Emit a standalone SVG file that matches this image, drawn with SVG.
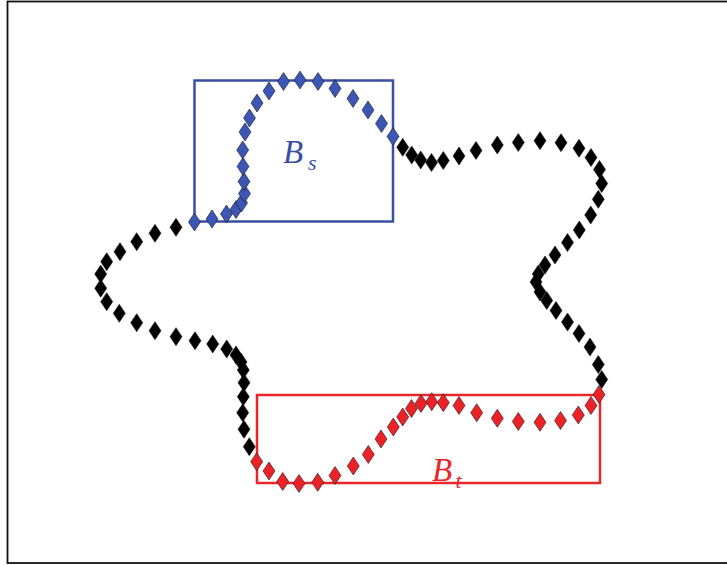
<svg xmlns="http://www.w3.org/2000/svg" xmlns:xlink="http://www.w3.org/1999/xlink" width="727" height="565" viewBox="0 0 727 565">
<style>
.k{fill:#000}
.b{fill:#3b56b4}
.r{fill:#ec2227}
.lab{font-family:"Liberation Serif",serif;font-style:italic}
</style>
<defs>
<path id="d" d="M0,-9 L6,0 L0,9 L-6,0 Z" stroke="#1a1a1a" stroke-width="0.6"/>
</defs>
<rect width="727" height="565" fill="#fff"/>
<rect x="7.5" y="1.5" width="730" height="561.5" fill="none" stroke="#111" stroke-width="1.8"/>
<g id="box-Bs">
<rect x="194.5" y="80.5" width="198.5" height="141" fill="none" stroke="#3a4fa3" stroke-width="2.5"/>
<text class="lab" x="283" y="163" font-size="33" fill="#3a4fa3">B</text>
<text class="lab" x="308" y="170" font-size="22" fill="#3a4fa3">s</text>
</g>
<g id="box-Bt">
<rect x="257" y="395" width="343" height="88" fill="none" stroke="#e8262b" stroke-width="2.5"/>
<text class="lab" x="432" y="480.5" font-size="33" fill="#e8262b">B</text>
<text class="lab" x="455.5" y="488" font-size="22" fill="#e8262b">t</text>
</g>
<g id="curve">
<use href="#d" class="b" x="194.5" y="222"/>
<use href="#d" class="b" x="212" y="219"/>
<use href="#d" class="b" x="226.5" y="214"/>
<use href="#d" class="b" x="236" y="209.5"/>
<use href="#d" class="b" x="241.5" y="203"/>
<use href="#d" class="b" x="244.5" y="193.5"/>
<use href="#d" class="b" x="244" y="181.5"/>
<use href="#d" class="b" x="243" y="166.5"/>
<use href="#d" class="b" x="242.7" y="150"/>
<use href="#d" class="b" x="245" y="132"/>
<use href="#d" class="b" x="249.5" y="118"/>
<use href="#d" class="b" x="257" y="103"/>
<use href="#d" class="b" x="269" y="91"/>
<use href="#d" class="b" x="283.5" y="81.5"/>
<use href="#d" class="b" x="300" y="80"/>
<use href="#d" class="b" x="318" y="81.5"/>
<use href="#d" class="b" x="335" y="88.5"/>
<use href="#d" class="b" x="353" y="98.5"/>
<use href="#d" class="b" x="368" y="110"/>
<use href="#d" class="b" x="381.5" y="123.5"/>
<use href="#d" class="b" x="393" y="136.5"/>
<use href="#d" class="k" x="402.7" y="147.3"/>
<use href="#d" class="k" x="411.7" y="155"/>
<use href="#d" class="k" x="420.7" y="160"/>
<use href="#d" class="k" x="431.5" y="162.5"/>
<use href="#d" class="k" x="443.3" y="160.5"/>
<use href="#d" class="k" x="459" y="156"/>
<use href="#d" class="k" x="476" y="150.5"/>
<use href="#d" class="k" x="497.3" y="145"/>
<use href="#d" class="k" x="518.3" y="142.5"/>
<use href="#d" class="k" x="540" y="140.7"/>
<use href="#d" class="k" x="561" y="142.7"/>
<use href="#d" class="k" x="579" y="148.3"/>
<use href="#d" class="k" x="591" y="157.5"/>
<use href="#d" class="k" x="599.5" y="169.5"/>
<use href="#d" class="k" x="601.7" y="183.5"/>
<use href="#d" class="k" x="598.3" y="199.3"/>
<use href="#d" class="k" x="590.7" y="215"/>
<use href="#d" class="k" x="579.3" y="230"/>
<use href="#d" class="k" x="567.5" y="242.5"/>
<use href="#d" class="k" x="555" y="255"/>
<use href="#d" class="k" x="545" y="265"/>
<use href="#d" class="k" x="538.3" y="274"/>
<use href="#d" class="k" x="536" y="282"/>
<use href="#d" class="k" x="540" y="292"/>
<use href="#d" class="k" x="546.7" y="300.5"/>
<use href="#d" class="k" x="556" y="310.5"/>
<use href="#d" class="k" x="567.5" y="322"/>
<use href="#d" class="k" x="579" y="333.5"/>
<use href="#d" class="k" x="590" y="347"/>
<use href="#d" class="k" x="598.3" y="364.5"/>
<use href="#d" class="k" x="601.7" y="379.5"/>
<use href="#d" class="r" x="599" y="394.5"/>
<use href="#d" class="r" x="591" y="405.5"/>
<use href="#d" class="r" x="578.3" y="415"/>
<use href="#d" class="r" x="560.5" y="420.5"/>
<use href="#d" class="r" x="540" y="422.3"/>
<use href="#d" class="r" x="518.3" y="421.5"/>
<use href="#d" class="r" x="497.3" y="418.3"/>
<use href="#d" class="r" x="476.7" y="412.7"/>
<use href="#d" class="r" x="459" y="405.5"/>
<use href="#d" class="r" x="443.3" y="402.7"/>
<use href="#d" class="r" x="431.7" y="401.7"/>
<use href="#d" class="r" x="421" y="403.5"/>
<use href="#d" class="r" x="411.5" y="408.5"/>
<use href="#d" class="r" x="402.7" y="417"/>
<use href="#d" class="r" x="393.3" y="427"/>
<use href="#d" class="r" x="381" y="439"/>
<use href="#d" class="r" x="368.3" y="454.5"/>
<use href="#d" class="r" x="353.3" y="466"/>
<use href="#d" class="r" x="335" y="475.5"/>
<use href="#d" class="r" x="317.7" y="482.3"/>
<use href="#d" class="r" x="299" y="483.5"/>
<use href="#d" class="r" x="282.7" y="481.5"/>
<use href="#d" class="r" x="269" y="471"/>
<use href="#d" class="r" x="256.7" y="461.7"/>
<use href="#d" class="k" x="249.3" y="446.7"/>
<use href="#d" class="k" x="244" y="429.3"/>
<use href="#d" class="k" x="242.7" y="412.7"/>
<use href="#d" class="k" x="243.3" y="396.7"/>
<use href="#d" class="k" x="244" y="382.7"/>
<use href="#d" class="k" x="243.3" y="370"/>
<use href="#d" class="k" x="241" y="362"/>
<use href="#d" class="k" x="236" y="355"/>
<use href="#d" class="k" x="226.7" y="349"/>
<use href="#d" class="k" x="212.7" y="344"/>
<use href="#d" class="k" x="195" y="340.7"/>
<use href="#d" class="k" x="176" y="336.7"/>
<use href="#d" class="k" x="155" y="330.7"/>
<use href="#d" class="k" x="136.7" y="322.7"/>
<use href="#d" class="k" x="119.3" y="313.3"/>
<use href="#d" class="k" x="106.7" y="301.7"/>
<use href="#d" class="k" x="100.7" y="288.3"/>
<use href="#d" class="k" x="100.7" y="274"/>
<use href="#d" class="k" x="106.7" y="261.7"/>
<use href="#d" class="k" x="120" y="251.7"/>
<use href="#d" class="k" x="136.7" y="241.7"/>
<use href="#d" class="k" x="155" y="233.3"/>
<use href="#d" class="k" x="176" y="227.3"/>
</g>
</svg>
